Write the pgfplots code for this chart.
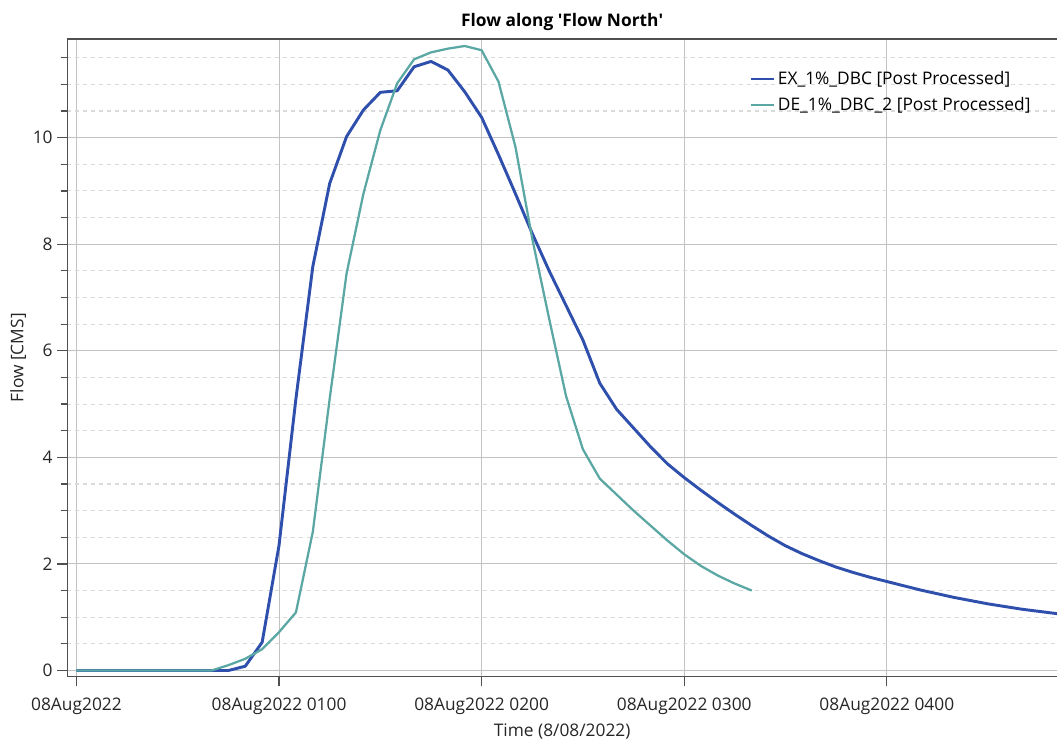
\documentclass[border=0pt]{standalone}
\usepackage{pgfplots}
\pgfplotsset{compat=1.18}
\usepackage{fontspec}
\setmainfont{Open Sans}
\definecolor{exblue}{HTML}{2F4FAD}
\definecolor{deteal}{HTML}{5BA7A3}
\definecolor{majgrid}{HTML}{C2C2C2}
\definecolor{mingrid}{HTML}{DADADA}
\definecolor{axcol}{HTML}{505050}
\begin{document}
\begin{tikzpicture}
\begin{axis}[
  at={(0,0)}, anchor=south west,
  scale only axis, width=742.3pt, height=478pt,
  xmin=-2.7, xmax=290.4, ymin=-0.11, ymax=11.85,
  axis x line*=bottom, axis y line*=left,
  axis line style={draw=axcol, line width=1pt, -},
  tick align=outside,
  major tick length=7.5pt, minor tick length=5pt,
  major tick style={axcol, line width=0.9pt},
  minor tick style={axcol, line width=0.9pt},
  xtick={0,60,120,180,240},
  xticklabels={08Aug2022, 08Aug2022 0100, 08Aug2022 0200, 08Aug2022 0300, 08Aug2022 0400},
  ytick={0,2,4,6,8,10},
  minor ytick={0.5,1,1.5,2.5,3,3.5,4.5,5,5.5,6.5,7,7.5,8.5,9,9.5,10.5,11,11.5},
  grid=both,
  major grid style={majgrid, line width=0.8pt},
  minor grid style={mingrid, dashed, line width=0.8pt},
  ticklabel style={font=\fontsize{13}{15}\selectfont, text=black!85},
  xticklabel style={yshift=-5pt},
  /pgf/number format/assume math mode=true,
  title={\bfseries Flow along \textquotesingle Flow North\textquotesingle},
  title style={font=\fontsize{13}{15}\selectfont, yshift=-3pt},
  xlabel={Time (8/08/2022)},
  ylabel={Flow [CMS]},
  every axis x label/.style={at={(axis description cs:0.5,-0.087)}, anchor=center, font=\fontsize{13}{15}\selectfont, text=black!85},
  every axis y label/.style={at={(axis description cs:-0.0498,0.5)}, anchor=center, rotate=90, font=\fontsize{13}{15}\selectfont, text=black!85},
  legend style={at={(0.685,0.958)}, anchor=north west, draw=none, fill=none,
    font=\fontsize{13}{15}\selectfont, row sep=4pt},
  legend cell align=left,
]
\addplot[exblue, line width=2.2pt, line join=round] table {
0 0
40 0
45 0.0
50 0.08
55 0.53
60 2.35
65 5.1
70 7.58
75 9.14
80 10.02
85 10.52
90 10.85
95 10.88
100 11.33
105 11.43
110 11.27
115 10.86
120 10.38
125 9.68
130 8.95
135 8.2
140 7.5
145 6.85
150 6.2
155 5.39
160 4.9
165 4.55
170 4.2
175 3.88
180 3.62
185 3.38
190 3.15
195 2.93
200 2.72
205 2.52
210 2.34
215 2.19
220 2.06
225 1.94
230 1.84
235 1.75
240 1.67
245 1.59
250 1.51
255 1.44
260 1.37
265 1.31
270 1.25
275 1.2
280 1.15
285 1.11
290 1.07
295 1.03
};
\addlegendentry{EX\_1\%\_DBC [Post Processed]}
\addplot[deteal, line width=1.7pt, line join=round] table {
0 0
40 0
45 0.1
50 0.22
55 0.4
60 0.72
65 1.09
70 2.6
75 5.1
80 7.45
85 8.95
90 10.14
95 11.02
100 11.47
105 11.6
110 11.67
115 11.72
120 11.64
125 11.05
130 9.83
135 8.1
140 6.6
145 5.15
150 4.15
155 3.6
160 3.3
165 3.0
170 2.72
175 2.44
180 2.18
185 1.96
190 1.78
195 1.63
200 1.5
};
\addlegendentry{DE\_1\%\_DBC\_2 [Post Processed]}
\end{axis}
\draw[axcol, line width=1pt] (0,478pt) -- (742.3pt,478pt);
\pgfresetboundingbox
\path[use as bounding box] (-50.5pt,-52.2pt) rectangle (742.3pt,507.3pt);
\end{tikzpicture}
\end{document}
